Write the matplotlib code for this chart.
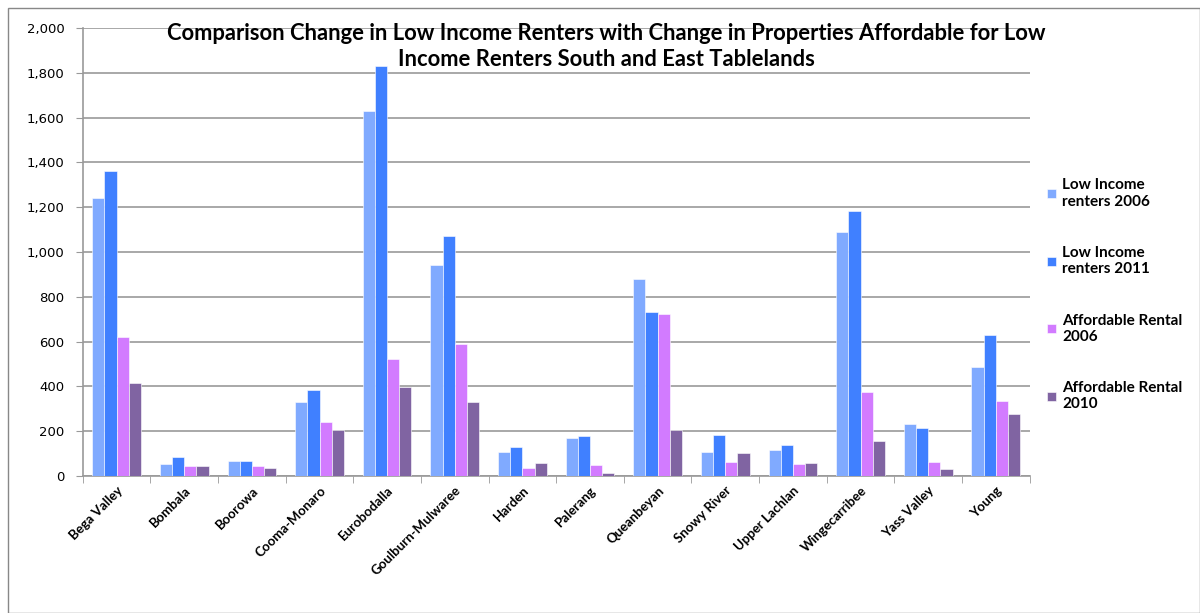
import matplotlib.pyplot as plt
import numpy as np
from matplotlib.patches import Rectangle

# Local government areas, South and East Tablelands
areas = ['Bega Valley', 'Bombala', 'Boorowa', 'Cooma-Monaro', 'Eurobodalla',
         'Goulburn-Mulwaree', 'Harden', 'Palerang', 'Queanbeyan', 'Snowy River',
         'Upper Lachlan', 'Wingecarribee', 'Yass Valley', 'Young']

low_income_2006 = [1240, 55, 65, 330, 1630, 940, 105, 170, 880, 105, 117, 1087, 230, 488]
low_income_2011 = [1360, 85, 65, 385, 1830, 1072, 130, 180, 730, 184, 138, 1184, 212, 630]
affordable_2006 = [620, 45, 45, 240, 520, 590, 35, 50, 725, 64, 53, 373, 63, 333]
affordable_2010 = [415, 45, 35, 205, 395, 330, 60, 15, 205, 104, 58, 157, 32, 276]

series = [
    ('Low Income\nrenters 2006', low_income_2006, '#80AAFF'),
    ('Low Income\nrenters 2011', low_income_2011, '#4080FF'),
    ('Affordable Rental\n2006', affordable_2006, '#D27BFF'),
    ('Affordable Rental\n2010', affordable_2010, '#8064A2'),
]

fig = plt.figure(figsize=(12, 6.13), dpi=100)
ax = fig.add_axes([0.069, 0.2235, 0.789, 0.731])

x = np.arange(len(areas))
w = 0.18
for i, (name, vals, col) in enumerate(series):
    ax.bar(x + (i - 1.5) * w, vals, w, color=col, edgecolor='white',
           linewidth=0.4, label=name, zorder=3)

ax.set_xlim(-0.5, len(areas) - 0.5)
ax.set_ylim(0, 2000)
ax.set_yticks(np.arange(0, 2001, 200))
ax.set_yticklabels([f'{v:,}' for v in range(0, 2001, 200)], fontsize=9.5,
                   family='DejaVu Sans')
ax.yaxis.grid(True, color='#999999', linewidth=1.2, zorder=0)
ax.tick_params(axis='y', length=5, color='#999999', pad=8)

ax.set_xticks(x)
ax.set_xticklabels(areas, rotation=45, ha='right', rotation_mode='anchor',
                   fontsize=9.5, fontweight='bold', family='Lato')
ax.tick_params(axis='x', length=0, pad=6)
ax.set_xticks(np.arange(-0.5, len(areas)), minor=True)
ax.tick_params(axis='x', which='minor', length=5, color='#999999')

for s in ['top', 'right']:
    ax.spines[s].set_visible(False)
for s in ['left', 'bottom']:
    ax.spines[s].set_color('#999999')
    ax.spines[s].set_linewidth(1.2)

fig.text(0.505, 0.962, 'Comparison Change in Low Income Renters with Change in Properties Affordable for Low\nIncome Renters South and East Tablelands',
         ha='center', va='top', fontsize=15.8, fontweight='bold', family='Lato',
         linespacing=1.3)

ax.legend(loc='upper left', bbox_to_anchor=(1.004, 0.695), frameon=False,
          prop={'family': 'Lato', 'weight': 'bold', 'size': 11},
          handlelength=0.55, handleheight=0.55, handletextpad=0.45,
          labelspacing=2.45)

fig.patches.append(Rectangle((0.007, 0.0), 0.993, 0.987, transform=fig.transFigure,
                             fill=False, edgecolor='#888888', linewidth=1))

fig.savefig('out.png', dpi=100)
